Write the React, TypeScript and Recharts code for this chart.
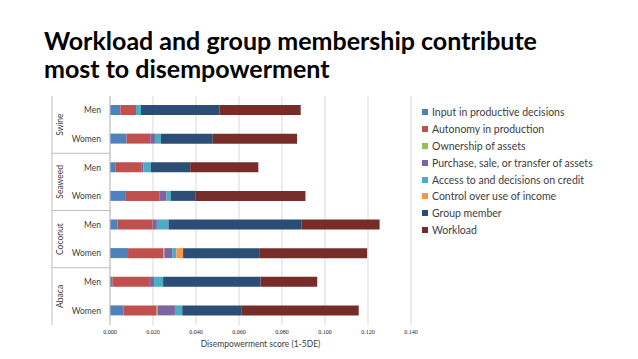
import { Bar, BarChart, CartesianGrid, XAxis, YAxis } from "recharts";

const categories = [
  "Swine|Men",
  "Swine|Women",
  "Seaweed|Men",
  "Seaweed|Women",
  "Coconut|Men",
  "Coconut|Women",
  "Abaca|Men",
  "Abaca|Women",
];

const inputDecisions = [0.0048, 0.0077, 0.0027, 0.0074, 0.0035, 0.0084, 0.0011, 0.0062];
const autonomy = [0.0073, 0.011, 0.0121, 0.0155, 0.0163, 0.0163, 0.0171, 0.0155];
const ownership = [0, 0, 0, 0, 0, 0.0006, 0, 0.0006];
const purchase = [0, 0.0022, 0.0008, 0.0034, 0.002, 0.0036, 0.0023, 0.0079];
const credit = [0.0023, 0.0028, 0.0034, 0.002, 0.0054, 0.002, 0.0042, 0.0034];
const income = [0, 0, 0, 0, 0, 0.0031, 0, 0];
const groupMember = [0.0365, 0.0241, 0.0183, 0.0116, 0.062, 0.0357, 0.0453, 0.0277];
const workload = [0.0378, 0.0392, 0.0317, 0.051, 0.0362, 0.0499, 0.0264, 0.0544];

const xTicks = [0, 0.02, 0.04, 0.06, 0.08, 0.1, 0.12, 0.14];

const series = [
  { key: "input", name: "Input in productive decisions", color: "#4F81BD", values: inputDecisions },
  { key: "autonomy", name: "Autonomy in production", color: "#C0504D", values: autonomy },
  { key: "ownership", name: "Ownership of assets", color: "#9BBB59", values: ownership },
  { key: "purchase", name: "Purchase, sale, or transfer of assets", color: "#8064A2", values: purchase },
  { key: "credit", name: "Access to and decisions on credit", color: "#4BACC6", values: credit },
  { key: "income", name: "Control over use of income", color: "#F79646", values: income },
  { key: "group", name: "Group member", color: "#2C4D75", values: groupMember },
  { key: "workload", name: "Workload", color: "#772C2A", values: workload },
];

const data = categories.map((cat, i) => {
  const row: Record<string, string | number> = { cat };
  series.forEach((s) => {
    row[s.key] = s.values[i];
  });
  return row;
});

const TOP = 96;
const BOTTOM = 325;
const AXIS_X = 110;
const LEFT_X = 52;
const BAND = (BOTTOM - TOP) / categories.length;
const FONT = "Lato, 'Open Sans', sans-serif";

function CategoryTick(props: any) {
  const { y, payload } = props;
  const [group, sub] = String(payload.value).split("|");
  const idx = categories.indexOf(payload.value);
  const isSecond = idx % 2 === 1;
  return (
    <g>
      <text x={101} y={y} dy={3} textAnchor="end" fontSize={8.5} fill="#404040" fontFamily={FONT}>
        {sub}
      </text>
      {isSecond && (
        <>
          <text
            x={0}
            y={0}
            transform={`translate(63, ${y - BAND / 2}) rotate(-90)`}
            textAnchor="middle"
            fontSize={8.5}
            fill="#404040"
            fontFamily={FONT}
          >
            {group}
          </text>
          {idx < categories.length - 1 && (
            <line x1={LEFT_X} x2={AXIS_X} y1={y + BAND / 2} y2={y + BAND / 2} stroke="#bfbfbf" strokeWidth={1} />
          )}
        </>
      )}
      {idx === 0 && <line x1={LEFT_X} x2={LEFT_X} y1={TOP} y2={BOTTOM} stroke="#bfbfbf" strokeWidth={1} />}
    </g>
  );
}

function LegendList() {
  return (
    <div
      style={{
        position: "absolute",
        left: 422,
        top: 104,
        fontFamily: FONT,
        fontSize: 10.5,
        color: "#404040",
      }}
    >
      {series.map((s) => (
        <div key={s.key} style={{ display: "flex", alignItems: "center", height: 16.8 }}>
          <span style={{ width: 6, height: 6, background: s.color, marginRight: 4, display: "inline-block" }} />
          <span>{s.name}</span>
        </div>
      ))}
    </div>
  );
}

export default function App() {
  return (
    <div style={{ position: "absolute", left: 0, top: 0, width: 638, height: 359, background: "#fff" }}>
      <div
        style={{
          position: "absolute",
          left: 44,
          top: 26,
          fontFamily: FONT,
          fontWeight: 700,
          fontSize: 25,
          lineHeight: "28px",
          color: "#000",
        }}
      >
        Workload and group membership contribute
        <br />
        most to disempowerment
      </div>
      <BarChart
        width={638}
        height={359}
        data={data}
        layout="vertical"
        margin={{ top: TOP, right: 227, bottom: 0, left: 0 }}
        barSize={10}
      >
        <CartesianGrid horizontal={false} stroke="#d9d9d9" />
        <XAxis
          type="number"
          domain={[0, 0.14]}
          ticks={xTicks}
          interval={0}
          tickFormatter={(v: number) => v.toFixed(3)}
          axisLine={false}
          tickLine={false}
          height={34}
          tick={{ fontSize: 6, fill: "#262626", fontFamily: "'Liberation Serif', serif", dy: -3 }}
          label={{
            value: "Disempowerment score (1-5DE)",
            position: "insideBottom",
            offset: 12,
            fontSize: 8.5,
            fill: "#404040",
            fontFamily: FONT,
          }}
        />
        <YAxis
          type="category"
          dataKey="cat"
          width={AXIS_X}
          axisLine={{ stroke: "#bfbfbf" }}
          tickLine={false}
          interval={0}
          tick={(p: any) => <CategoryTick {...p} />}
        />
        {series.map((s) => (
          <Bar key={s.key} dataKey={s.key} name={s.name} stackId="a" fill={s.color} isAnimationActive={false} />
        ))}
      </BarChart>
      <LegendList />
    </div>
  );
}
